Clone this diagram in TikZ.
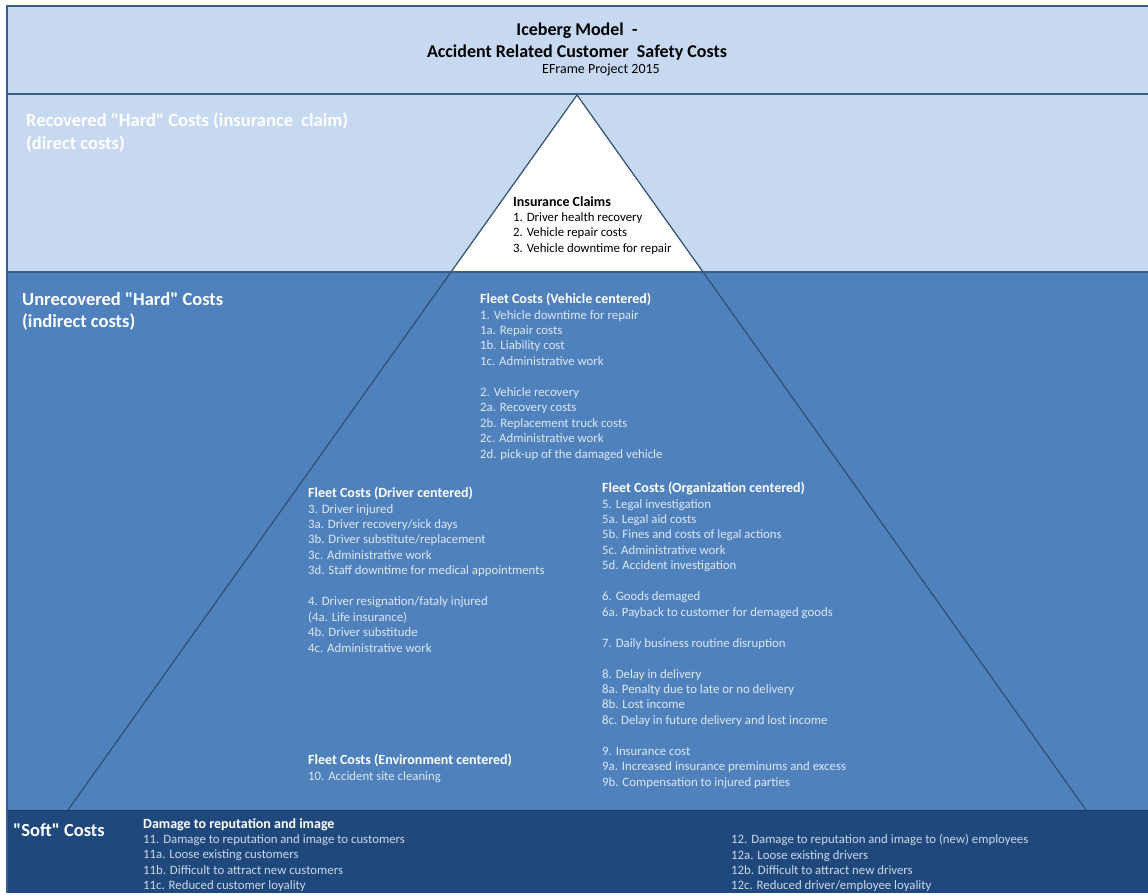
\documentclass[tikz,border=0pt]{standalone}
\usepackage{fontspec}
\setmainfont{Carlito}[Ligatures=TeXOff]
\definecolor{paleblue}{RGB}{198,217,241}
\definecolor{midblue}{RGB}{79,129,189}
\definecolor{deepblue}{RGB}{31,73,125}
\definecolor{edgeblue}{RGB}{56,93,138}
\definecolor{itemtext}{RGB}{222,232,244}
\begin{document}
\begin{tikzpicture}[x=1pt,y=-1pt,inner sep=0pt]
    \tikzstyle{band}=[draw=edgeblue,line width=1.6pt]
    \tikzstyle{iceedge}=[draw=edgeblue!85!black,line width=1.2pt]
    \tikzstyle{block}=[anchor=north west,align=left,text=itemtext,font=\fontsize{12.8}{15.45}\selectfont]
    \tikzstyle{side}=[anchor=north west,align=left,text=white,font=\fontsize{18.5}{22.5}\selectfont\bfseries]
    \newcommand{\head}[1]{\textcolor{white}{\fontsize{14}{15.45}\selectfont\bfseries #1}}
    \useasboundingbox[fill=white] (0,0) rectangle (1148,894);

    % bands
    \fill[paleblue] (7,6) rectangle (1152,272);
    \fill[midblue] (7,272) rectangle (1152,810);
    \fill[deepblue] (7,810) rectangle (1152,893);

    % iceberg
    \coordinate (tip) at (577,95);
    \coordinate (bl) at (68,810);
    \coordinate (br) at (1086,810);
    \coordinate (wl) at (451,272);
    \coordinate (wr) at (703,272);
    \fill[white] (tip) -- (wl) -- (wr) -- cycle;
    \draw[iceedge] (bl) -- (tip) -- (br);

    \draw[band] (1152,6) -- (7,6) -- (7,893);
    \draw[band] (7,94) -- (1152,94);
    \draw[band] (7,272) -- (1152,272);
    \draw[draw=deepblue!80!black,line width=1pt] (7,810) -- (1152,810);

    % title
    \node[font=\fontsize{18}{22}\selectfont\bfseries,align=center] (title) at (577,42) {Iceberg Model\ \ -\\Accident Related Customer\ \ Safety Costs};
    \node[font=\fontsize{14}{16}\selectfont] (project) at (601,70) {EFrame Project 2015};

    % levels
    \node[side] (recovered) at (26,113) {Recovered "Hard" Costs (insurance\ \ claim)\\(direct costs)};
    \node[side] (unrecovered) at (22,292) {Unrecovered "Hard" Costs\\(indirect costs)};
    \node[side] (soft) at (13,823) {"Soft" Costs};

    % insurance claims
    \node[block,text=black] (claims) at (513,196) {\textbf{\fontsize{14}{15.45}\selectfont Insurance Claims}\\1. Driver health recovery\\2. Vehicle repair costs\\3. Vehicle downtime for repair};

    % fleet costs
    \node[block] (vehicle) at (480,293) {\head{Fleet Costs (Vehicle centered)}\\1. Vehicle downtime for repair\\1a. Repair costs\\1b. Liability cost\\1c. Administrative work\\[15.45pt]
        2. Vehicle recovery\\2a. Recovery costs\\2b. Replacement truck costs\\2c. Administrative work\\2d. pick-up of the damaged vehicle};
    \node[block] (driver) at (308,487) {\head{Fleet Costs (Driver centered)}\\3. Driver injured\\3a. Driver recovery/sick days\\3b. Driver substitute/replacement\\3c. Administrative work\\3d. Staff downtime for medical appointments\\[15.45pt]
        4. Driver resignation/fataly injured\\(4a. Life insurance)\\4b. Driver substitude\\4c. Administrative work};
    \node[block] (organization) at (602,482) {\head{Fleet Costs (Organization centered)}\\5. Legal investigation\\5a. Legal aid costs\\5b. Fines and costs of legal actions\\5c. Administrative work\\5d. Accident investigation\\[15.45pt]
        6. Goods demaged\\6a. Payback to customer for demaged goods\\[15.45pt]
        7. Daily business routine disruption\\[15.45pt]
        8. Delay in delivery\\8a. Penalty due to late or no delivery\\8b. Lost income\\8c. Delay\ in future delivery\ and lost income\\[15.45pt]
        9. Insurance cost\\9a. Increased insurance preminums and excess\\9b. Compensation to injured parties};
    \node[block] (environment) at (308,754) {\head{Fleet Costs (Environment centered)}\\10. Accident site cleaning};

    % soft costs
    \node[block,text=itemtext!90!deepblue] (customers) at (143,818) {\head{Damage to reputation and image}\\11. Damage to reputation and image to customers\\11a. Loose existing customers\\11b. Difficult to attract new customers\\11c. Reduced customer loyality};
    \node[block,text=itemtext!90!deepblue] (employees) at (731,834) {12. Damage to reputation and image to (new) employees\\12a. Loose existing drivers\\12b. Difficult to attract new drivers\\12c. Reduced driver/employee\ loyality};
\end{tikzpicture}
\end{document}
